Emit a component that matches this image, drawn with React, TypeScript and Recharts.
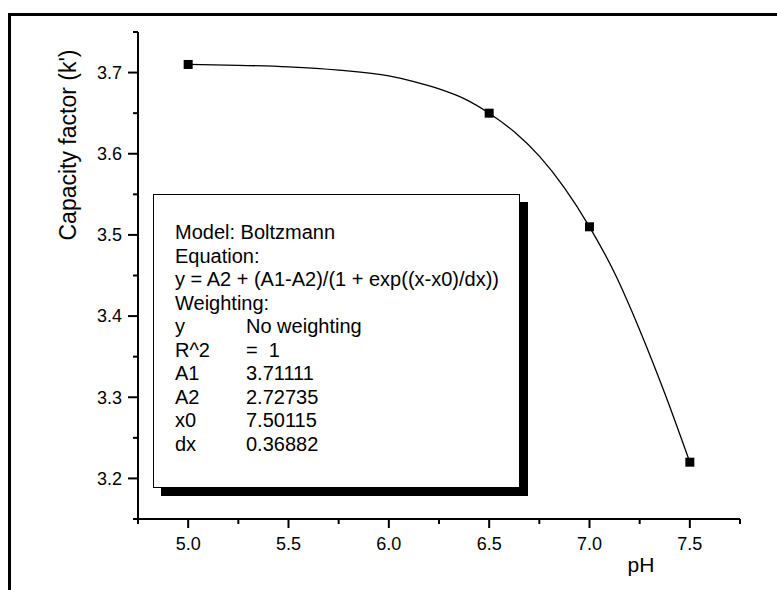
import React from 'react';
import { ComposedChart, Line, Scatter, XAxis, YAxis, Label } from 'recharts';

// measured points
const POINT_PH = [5.0, 6.5, 7.0, 7.5];
const POINT_K = [3.71, 3.65, 3.51, 3.22];

// fitted Boltzmann curve
const FIT_PH = [5.0, 5.25, 5.5, 5.75, 6.0, 6.125, 6.25, 6.375, 6.5, 6.625, 6.75, 6.875, 7.0, 7.125, 7.25, 7.375, 7.5];
const FIT_K = [3.71, 3.709, 3.707, 3.703, 3.696, 3.689, 3.68, 3.668, 3.65, 3.627, 3.597, 3.558, 3.51, 3.453, 3.383, 3.305, 3.22];

const X_TICKS = [4.75, 5.0, 5.25, 5.5, 5.75, 6.0, 6.25, 6.5, 6.75, 7.0, 7.25, 7.5, 7.75];
const X_LABELS = [5.0, 5.5, 6.0, 6.5, 7.0, 7.5];
const Y_TICKS = [3.15, 3.2, 3.25, 3.3, 3.35, 3.4, 3.45, 3.5, 3.55, 3.6, 3.65, 3.7, 3.75];
const Y_LABELS = [3.2, 3.3, 3.4, 3.5, 3.6, 3.7];

const FIT_NAMES = ['Model: Boltzmann', 'Equation:', 'y = A2 + (A1-A2)/(1 + exp((x-x0)/dx))', 'Weighting:'];
const PARAM_NAMES = ['y', 'R^2', 'A1', 'A2', 'x0', 'dx'];
const PARAM_VALUES = ['No weighting', '=  1', '3.71111', '2.72735', '7.50115', '0.36882'];

const FONT = '"Liberation Sans", Arial, Helvetica, sans-serif';

const points = POINT_PH.map((ph, i) => ({ ph, k: POINT_K[i] }));
const fit = FIT_PH.map((ph, i) => ({ ph, k: FIT_K[i] }));

const isMajor = (list: number[], v: number) => list.some((m) => Math.abs(m - v) < 1e-6);

const XTick = (props: any) => {
  const { x, y, payload } = props;
  const major = isMajor(X_LABELS, payload.value);
  return (
    <g>
      <line x1={x} y1={y} x2={x} y2={y + (major ? 9 : 5)} stroke="#000" strokeWidth={2} />
      {major && (
        <text x={x} y={y + 31} textAnchor="middle" fontSize={18} fontFamily={FONT} fill="#000">
          {payload.value.toFixed(1)}
        </text>
      )}
    </g>
  );
};

const YTick = (props: any) => {
  const { x, y, payload } = props;
  const major = isMajor(Y_LABELS, payload.value);
  return (
    <g>
      <line x1={x - (major ? 10 : 5)} y1={y} x2={x} y2={y} stroke="#000" strokeWidth={2} />
      {major && (
        <text x={x - 16} y={y} dy="0.35em" textAnchor="end" fontSize={18} fontFamily={FONT} fill="#000">
          {payload.value.toFixed(1)}
        </text>
      )}
    </g>
  );
};

const Square = (props: any) => {
  const { cx, cy } = props;
  return <rect x={cx - 4.5} y={cy - 4.5} width={9} height={9} fill="#000" />;
};

export default function App() {
  return (
    <div style={{ position: 'absolute', left: 0, top: 0, width: 777, height: 590, overflow: 'hidden', background: '#fff' }}>
      <ComposedChart width={777} height={590} margin={{ top: 32, right: 37, bottom: 21, left: 8 }}>
        <XAxis
          dataKey="ph"
          type="number"
          domain={[4.75, 7.75]}
          ticks={X_TICKS}
          interval={0}
          allowDataOverflow
          height={50}
          tickSize={0}
          tickMargin={0}
          tickLine={false}
          axisLine={{ stroke: '#000', strokeWidth: 2 }}
          tick={<XTick />}
        >
          <Label
            content={() => (
              <text x={641} y={572} textAnchor="middle" fontSize={21} fontFamily={FONT} fill="#000">
                pH
              </text>
            )}
          />
        </XAxis>
        <YAxis
          dataKey="k"
          type="number"
          domain={[3.15, 3.75]}
          ticks={Y_TICKS}
          interval={0}
          allowDataOverflow
          width={130}
          tickSize={0}
          tickMargin={0}
          tickLine={false}
          axisLine={{ stroke: '#000', strokeWidth: 2 }}
          tick={<YTick />}
        >
          <Label
            content={() => (
              <text
                x={76}
                y={145}
                transform="rotate(-90, 76, 145)"
                textAnchor="middle"
                fontSize={23}
                fontFamily={FONT}
                fill="#000"
              >
                Capacity factor (k')
              </text>
            )}
          />
        </YAxis>
        <Line
          data={fit}
          dataKey="k"
          type="monotone"
          stroke="#000"
          strokeWidth={1.3}
          dot={false}
          activeDot={false}
          isAnimationActive={false}
        />
        <Scatter data={points} dataKey="k" fill="#000" shape={<Square />} isAnimationActive={false} />
      </ComposedChart>

      {/* outer frame, only top and left edges fall inside the picture */}
      <div
        style={{
          position: 'absolute',
          left: 8,
          top: 13,
          width: 1000,
          height: 1000,
          borderTop: '3px solid #000',
          borderLeft: '3px solid #000',
        }}
      />

      {/* fit results box */}
      <div
        style={{
          position: 'absolute',
          left: 153,
          top: 194,
          width: 367,
          height: 294,
          boxSizing: 'border-box',
          border: '1px solid #000',
          background: '#fff',
          boxShadow: '8px 8px 0 #000',
          fontFamily: FONT,
          fontSize: 20,
          lineHeight: '23.5px',
          color: '#000',
          paddingTop: 26,
          paddingLeft: 21,
          whiteSpace: 'pre',
        }}
      >
        {FIT_NAMES.map((t) => (
          <div key={t}>{t}</div>
        ))}
        {PARAM_NAMES.map((n, i) => (
          <div key={n} style={{ position: 'relative' }}>
            <span>{n}</span>
            <span style={{ position: 'absolute', left: 71 }}>{PARAM_VALUES[i]}</span>
          </div>
        ))}
      </div>
    </div>
  );
}
